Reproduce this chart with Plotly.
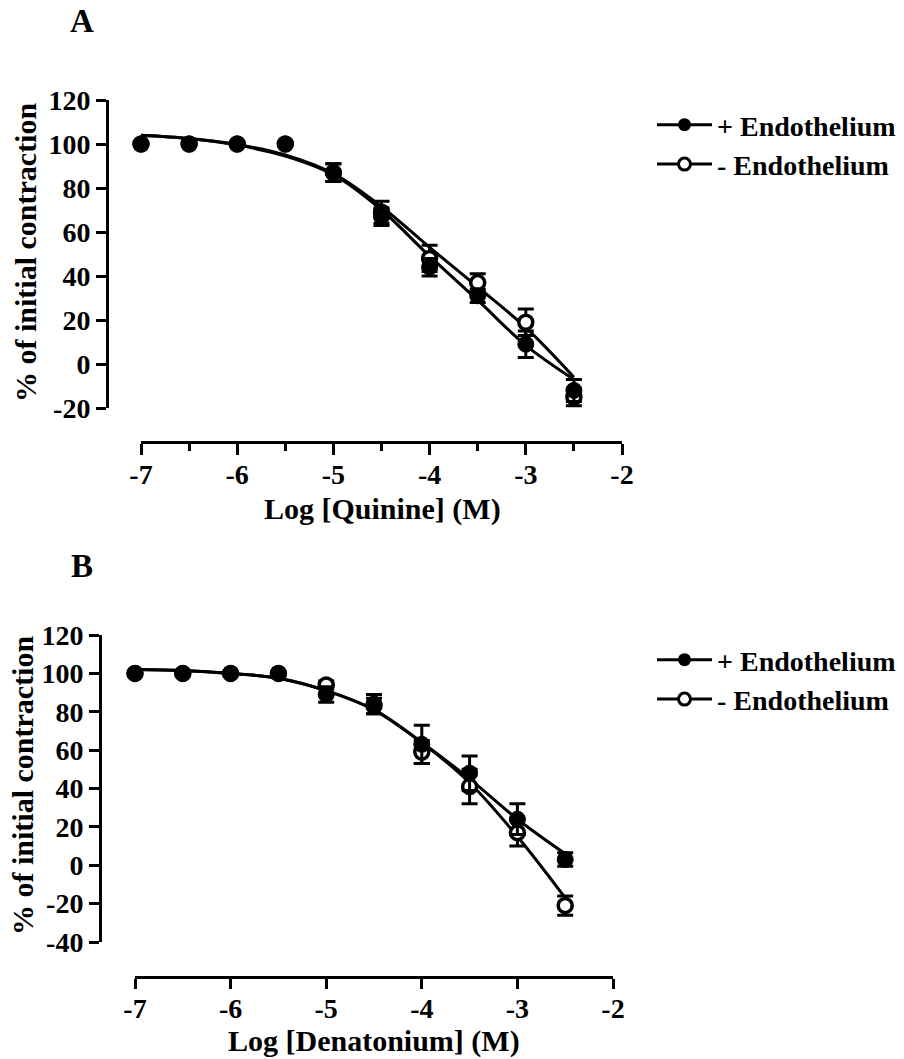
import plotly.graph_objects as go

W, H = 904, 1059
FONT = "Liberation Serif"

# ---------------- data ----------------
log_dose = [-7, -6.5, -6, -5.5, -5, -4.5, -4, -3.5, -3, -2.5]

# Panel A (Quinine)
a_plus = [100, 100, 100, 100, 87, 67, 44, 31, 9, -12]
a_plus_err = [0, 0, 0, 0, 4, 4, 4, 3, 6, 5]
a_minus = [100, 100, 100, 100, 87, 69, 48, 37, 19, -15]
a_minus_err = [0, 0, 0, 0, 4, 5, 6, 4, 6, 4]
a_fit_plus = [104, 102.5, 99.5, 94.5, 86, 70, 49, 29, 8.5, -7]
a_fit_minus = [104, 102.5, 99.8, 95, 86.5, 71.5, 53, 35, 16.5, -6]

# Panel B (Denatonium)
b_plus = [100, 100, 100, 100, 89, 84, 63, 48, 24, 3]
b_plus_err = [0, 0, 0, 0, 4, 5, 10, 9, 8, 3.5]
b_minus = [100, 100, 100, 100, 94, 83, 59, 41, 17, -21]
b_minus_err = [0, 0, 0, 0, 2, 4, 6, 9, 7, 5]
b_fit_plus = [102, 101.5, 100, 97.5, 91, 81, 64, 45, 24, 6]
b_fit_minus = [102, 101.5, 100, 97.5, 91, 81, 64, 43, 15, -17]

x_ticks = [-7, -6, -5, -4, -3, -2]
x_tick_text = ["-7", "-6", "-5", "-4", "-3", "-2"]
a_y_ticks = [-20, 0, 20, 40, 60, 80, 100, 120]
a_y_text = ["-20", "0", "20", "40", "60", "80", "100", "120"]
b_y_ticks = [-40, -20, 0, 20, 40, 60, 80, 100, 120]
b_y_text = ["-40", "-20", "0", "20", "40", "60", "80", "100", "120"]

labels = ["+ Endothelium", "- Endothelium"]

# ---------------- layout helpers ----------------
def px_x(p):
    return p / W

def px_y(p):
    return 1 - p / H

fig = go.Figure()

def add_panel(xa, ya, leg, plus, plus_err, minus, minus_err, fit_plus, fit_minus):
    for fit in (fit_minus, fit_plus):
        fig.add_trace(go.Scatter(x=log_dose, y=fit, mode="lines",
                                 line=dict(color="black", width=3, shape="spline", smoothing=1.0),
                                 xaxis=xa, yaxis=ya, showlegend=False, hoverinfo="skip"))
    fig.add_trace(go.Scatter(x=log_dose, y=minus, mode="markers",
                             marker=dict(symbol="circle", size=14, color="white", line=dict(color="black", width=3.5)),
                             error_y=dict(type="data", array=minus_err, visible=True, color="black", thickness=3, width=8),
                             xaxis=xa, yaxis=ya, showlegend=False, cliponaxis=False))
    fig.add_trace(go.Scatter(x=log_dose, y=plus, mode="markers",
                             marker=dict(symbol="circle", size=16, color="black", line=dict(color="black", width=1)),
                             error_y=dict(type="data", array=plus_err, visible=True, color="black", thickness=3, width=8),
                             xaxis=xa, yaxis=ya, showlegend=False, cliponaxis=False))
    fig.add_trace(go.Scatter(x=[None], y=[None], mode="lines+markers", name=labels[0],
                             line=dict(color="black", width=3),
                             marker=dict(symbol="circle", size=13, color="black"),
                             xaxis=xa, yaxis=ya, legend=leg))
    fig.add_trace(go.Scatter(x=[None], y=[None], mode="lines+markers", name=labels[1],
                             line=dict(color="black", width=3),
                             marker=dict(symbol="circle", size=12, color="white", line=dict(color="black", width=3)),
                             xaxis=xa, yaxis=ya, legend=leg))

add_panel("x", "y", "legend", a_plus, a_plus_err, a_minus, a_minus_err, a_fit_plus, a_fit_minus)
add_panel("x2", "y2", "legend2", b_plus, b_plus_err, b_minus, b_minus_err, b_fit_plus, b_fit_minus)

tickfont = dict(family=FONT, size=28, color="black", weight="bold")
common_axis = dict(showgrid=False, zeroline=False, showline=True, linecolor="black", linewidth=3,
                   ticks="outside", tickcolor="black", tickwidth=3, tickfont=tickfont, automargin=False,
                   tickmode="array")

legend_font = dict(family=FONT, size=28, color="black", weight="bold")

fig.update_layout(
    width=W, height=H,
    margin=dict(l=0, r=0, t=0, b=0),
    paper_bgcolor="white", plot_bgcolor="white",
    xaxis=dict(domain=[px_x(141), px_x(622)], range=[-7, -2], anchor="free", position=px_y(442),
               tickvals=x_ticks, ticktext=x_tick_text, ticklen=11, ticklabelstandoff=-5,
               minor=dict(dtick=0.5, tick0=-7, ticks="outside", ticklen=7, tickwidth=3, tickcolor="black"),
               **common_axis),
    yaxis=dict(domain=[px_y(408), px_y(100)], range=[-20, 120], anchor="free", position=px_x(107),
               tickvals=a_y_ticks, ticktext=a_y_text, ticklen=10, **common_axis),
    xaxis2=dict(domain=[px_x(135), px_x(613)], range=[-7, -2], anchor="free", position=px_y(977),
                tickvals=x_ticks, ticktext=x_tick_text, ticklen=10, ticklabelstandoff=-5, **common_axis),
    yaxis2=dict(domain=[px_y(942), px_y(635)], range=[-40, 120], anchor="free", position=px_x(100),
                tickvals=b_y_ticks, ticktext=b_y_text, ticklen=10, **common_axis),
    legend=dict(x=px_x(652), y=px_y(100), xanchor="left", yanchor="top", bgcolor="rgba(0,0,0,0)",
                font=legend_font, itemwidth=55, tracegroupgap=0),
    legend2=dict(x=px_x(652), y=px_y(635), xanchor="left", yanchor="top", bgcolor="rgba(0,0,0,0)",
                 font=legend_font, itemwidth=55, tracegroupgap=0),
)

title_font = dict(family=FONT, size=30, color="black", weight="bold")
ann = [
    dict(text="A", x=px_x(82), y=px_y(21), font=dict(family=FONT, size=33, color="black", weight="bold")),
    dict(text="B", x=px_x(82), y=px_y(566), font=dict(family=FONT, size=33, color="black", weight="bold")),
    dict(text="% of initial contraction", x=px_x(26), y=px_y(253), textangle=-90, font=title_font),
    dict(text="% of initial contraction", x=px_x(22), y=px_y(786), textangle=-90, font=title_font),
    dict(text="Log [Quinine] (M)", x=px_x(382), y=px_y(509), font=title_font),
    dict(text="Log [Denatonium] (M)", x=px_x(374), y=px_y(1041), font=title_font),
]
for a in ann:
    a.update(xref="paper", yref="paper", xanchor="center", yanchor="middle", showarrow=False)
fig.update_layout(annotations=ann)

fig.write_html("out.html")
